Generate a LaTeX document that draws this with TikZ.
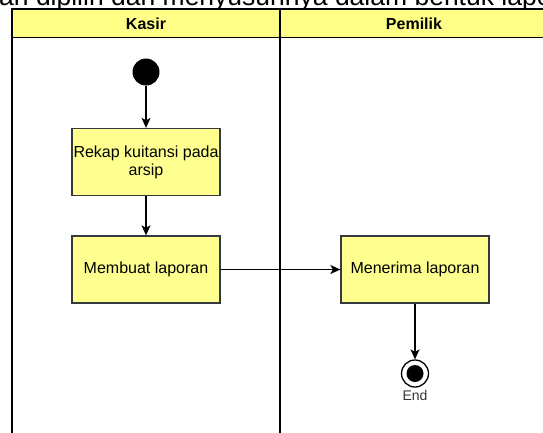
\documentclass[tikz,border=0pt]{standalone}
\usepackage{fontspec}
\setmainfont{Liberation Sans}
\usetikzlibrary{arrows.meta}
\definecolor{laneyellow}{HTML}{FFFF88}
\definecolor{boxyellow}{HTML}{FFFF90}
\definecolor{boxline}{HTML}{36393D}
\tikzset{
  lane/.style={draw=black, line width=1.3pt},
  header/.style={draw=black, line width=1.3pt, fill=laneyellow},
  actbox/.style={draw=boxline, line width=1.3pt, fill=boxyellow, minimum width=148pt, minimum height=67pt, inner sep=0pt, align=center, font=\fontsize{16}{18}\selectfont},
  flow/.style={draw=black, line width=1.3pt, -{Stealth[length=10pt,width=9pt,inset=2.5pt]}},
  lanetitle/.style={font=\fontsize{16}{18}\selectfont\bfseries}
}
\begin{document}
\begin{tikzpicture}[x=1pt,y=-1pt]
\useasboundingbox (0,0) rectangle (543,432);
\clip (0,0) rectangle (543,432);
% clipped top text
\node[anchor=base west, inner sep=0pt, font=\fontsize{26.5}{30}\selectfont] (toptext) at (-1,5) {an dipilih dan menyusunnya dalam bentuk lapo};
% swimlanes
\path[header] (12,9) rectangle (560,37.5);
\draw[lane] (12,9) -- (12,440);
\draw[lane] (280,9) -- (280,440);
\node[lanetitle] (kasir) at (146,23.5) {Kasir};
\node[lanetitle] (pemilik) at (414,23.5) {Pemilik};
% nodes
\node[circle, fill=black, minimum size=27pt, inner sep=0pt] (start) at (146,72) {};
\node[actbox] (rekap) at (146,162) {Rekap kuitansi pada\\arsip};
\node[actbox] (membuat) at (146,269.5) {Membuat laporan};
\node[actbox] (menerima) at (415,269.5) {Menerima laporan};
\node[circle, draw=black, line width=1.3pt, fill=white, minimum size=27pt, inner sep=0pt] (end) at (415,373.5) {};
\node[circle, fill=black, minimum size=17pt, inner sep=0pt] (endin) at (end.center) {};
\node[font=\fontsize{14}{16}\selectfont, text=black!80, anchor=north] (endlbl) at (415,387) {End};
% connectors
\draw[flow] (start) -- (rekap);
\draw[flow] (rekap) -- (membuat);
\draw[flow] (membuat) -- (menerima);
\draw[flow] (menerima) -- (end);
\end{tikzpicture}
\end{document}
